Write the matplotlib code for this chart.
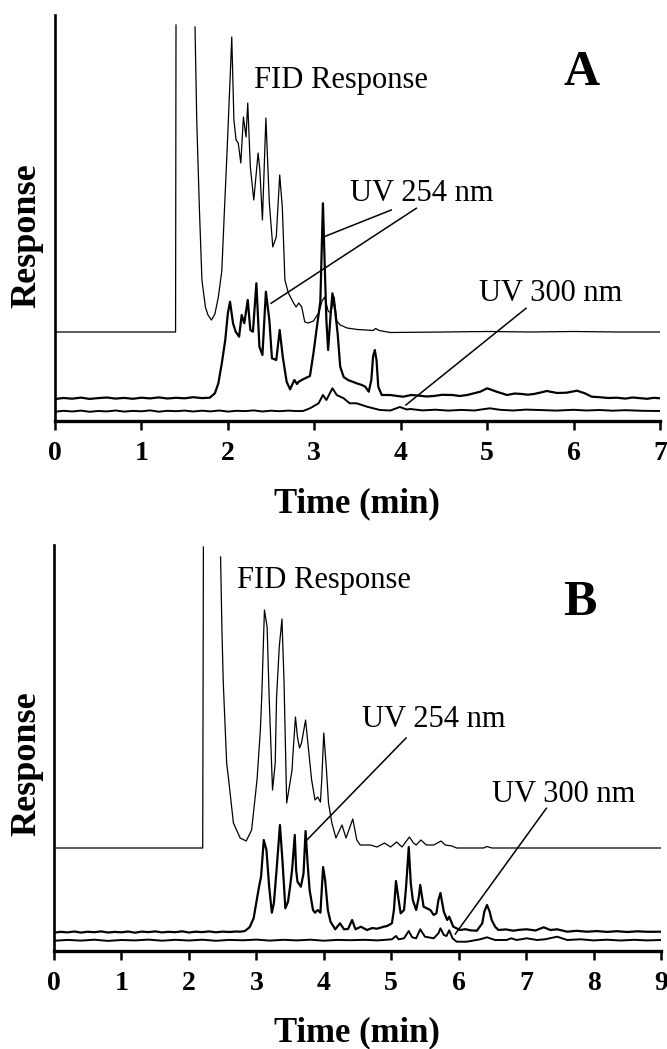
import numpy as np
import matplotlib
matplotlib.use("Agg")
import matplotlib.pyplot as plt

nan = np.nan

# ---------------- Panel A data (time in min, response in arbitrary units) ----------------
fid_a_t = [0.00, 0.50, 1.00, 1.395, 1.40, nan, 1.62, 1.64, 1.67, 1.70, 1.74, 1.77, 1.81, 1.85, 1.89,
           1.93, 1.96, 1.99, 2.03, 2.045, 2.07, 2.095, 2.12, 2.15, 2.18, 2.21, 2.23, 2.26, 2.30, 2.35,
           2.37, 2.40, 2.44, 2.48, 2.52, 2.56, 2.60, 2.63, 2.66, 2.70, 2.76, 2.79, 2.82, 2.855, 2.89,
           2.93, 2.99, 3.05, 3.09, 3.12, 3.16, 3.19, 3.23, 3.26, 3.30, 3.38, 3.50, 3.60, 3.68, 3.71,
           3.75, 3.88, 4.50, 5.00, 5.50, 6.00, 6.50, 7.00]
fid_a_y = [89, 89, 89, 89, 396, nan, 394, 301, 214, 141, 114, 106, 101, 107, 124,
           150, 210, 268, 351, 384, 301, 281, 278, 258, 304, 284, 318, 254, 221, 268,
           251, 201, 303, 218, 174, 184, 246, 214, 141, 128, 118, 114, 118, 114, 99,
           98, 100, 108, 120, 124, 110, 108, 124, 100, 96, 93, 91.5, 91, 90.5, 92.5,
           90.5, 88.5, 89, 89.5, 89, 89.5, 89, 89]

uv254_a_t = [0.0, 0.1, 0.2, 0.3, 0.4, 0.5, 0.6, 0.7, 0.8, 0.9, 1.0, 1.1, 1.2, 1.3, 1.4, 1.5, 1.6, 1.7,
             1.79, 1.85, 1.89, 1.93, 1.97, 2.00, 2.025,
             2.06, 2.09, 2.13, 2.16, 2.19, 2.23, 2.26, 2.29, 2.33, 2.365, 2.40, 2.44, 2.48, 2.51,
             2.56, 2.60, 2.635, 2.68, 2.72, 2.77, 2.80, 2.82, 2.87, 2.95, 2.99, 3.03, 3.07, 3.10,
             3.12, 3.14, 3.16, 3.19, 3.21, 3.24, 3.27, 3.30, 3.34, 3.39, 3.49, 3.55, 3.59, 3.63,
             3.66, 3.68, 3.70, 3.72, 3.74, 3.78, 3.88, 3.96, 4.03, 4.12, 4.20, 4.30, 4.38, 4.48,
             4.60, 4.68, 4.77, 4.92, 5.00, 5.11, 5.23, 5.32, 5.40, 5.47, 5.54, 5.62, 5.69, 5.81,
             5.92, 6.04, 6.13, 6.21, 6.30, 6.40, 6.50, 6.60, 6.68, 6.75, 6.85, 6.93, 7.00]
uv254_a_y = [22.0, 23.0, 22.3, 23.4, 22.1, 22.9, 23.5, 22.4, 23.1, 22.2, 23.3, 22.6, 23.6, 22.5, 23.2,
             22.7, 23.8, 22.9,
             23.3, 27.7, 37.7, 57.7, 81, 107.7, 119.3,
             97.7, 89.3, 84.3, 106, 97.7, 121, 91, 89.3, 137.7, 74.3, 66, 129.3, 101, 62.7,
             61, 91, 64.3, 39.3, 31.7, 41, 37, 39.3, 41.7, 45, 67.7, 94, 119.3, 217.7,
             158, 101, 71, 107.7, 127.7, 111, 87.7, 54.3, 44, 41, 37.7, 36, 34.3, 29.3,
             41, 64.3, 71, 61, 34.3, 26, 26, 25, 24.3, 26, 25.5, 24.5, 25, 26.2,
             26, 25, 26, 29.3, 32.7, 29.3, 26, 27.5, 27, 26.3, 27, 28.5, 30, 28,
             28.3, 30.3, 27.7, 24.3, 23.8, 23, 23.3, 22.4, 23.5, 23, 22.2, 23.2, 22.7]

uv300_a_t = [0.0, 0.1, 0.2, 0.3, 0.4, 0.5, 0.6, 0.7, 0.8, 0.9, 1.0, 1.1, 1.2, 1.3, 1.4, 1.5, 1.6,
             1.7, 1.8, 1.9, 2.0, 2.1, 2.2, 2.3, 2.4, 2.5, 2.6, 2.7, 2.8, 2.87, 2.95, 3.05, 3.10,
             3.14, 3.21, 3.26, 3.34, 3.41, 3.49, 3.61, 3.76, 3.88, 3.99, 4.07, 4.11, 4.25, 4.40,
             4.55, 4.70, 4.85, 5.03, 5.15, 5.30, 5.45, 5.60, 5.80, 6.00, 6.15, 6.30, 6.45, 6.60,
             6.80, 7.00]
uv300_a_y = [9.3, 10.2, 9.5, 10.4, 9.2, 10.0, 9.6, 10.5, 9.4, 10.1, 9.7, 10.6, 9.3, 10.2, 9.8,
             10.4, 9.5, 10.3, 9.6, 10.5, 9.4, 10.2, 9.9, 10.6, 9.5, 10.3, 9.8, 10.4, 9.9, 10,
             12.7, 17.7, 26, 21, 32.7, 26, 22.7, 17.7, 17.7, 14.3, 11, 10.5, 14, 11.5, 12,
             10.6, 11.3, 10.4, 11.1, 10.5, 12.7, 11.2, 10.5, 11.4, 11, 10.4, 11.2, 10.5, 11,
             10.3, 10.8, 10.2, 10]

# ---------------- Panel B data ----------------
fid_b_t = [0.0, 1.0, 2.0, 2.205, 2.215, nan, 2.47, 2.49, 2.51, 2.56, 2.59, 2.66, 2.76, 2.85, 2.93,
           3.01, 3.06, 3.08, 3.12, 3.16, 3.19, 3.24, 3.28, 3.30, 3.34, 3.38, 3.41, 3.45, 3.53, 3.54,
           3.58, 3.61, 3.64, 3.67, 3.73, 3.77, 3.82, 3.87, 3.91, 3.95, 3.97, 4.00, 4.04, 4.07, 4.12,
           4.18, 4.27, 4.33, 4.43, 4.49, 4.54, 4.69, 4.79, 4.90, 4.99, 5.08, 5.16, 5.27, 5.33, 5.37,
           5.44, 5.52, 5.63, 5.74, 5.80, 5.90, 5.97, 6.37, 6.42, 6.49, 7.0, 8.0, 9.0]
fid_b_y = [103, 103, 103, 103, 404, nan, 394, 321, 268, 188, 171, 128, 113, 110, 121,
           171, 221, 254, 341, 324, 254, 161, 188, 254, 304, 332, 271, 148, 181, 194,
           234, 214, 203, 208, 231, 204, 171, 151, 154, 149, 171, 218, 181, 148, 128,
           113, 126, 113, 132, 111, 106, 106, 104, 108, 104, 109, 104, 114, 108, 106,
           111, 106, 106, 110, 106, 105, 103, 103, 104.5, 103, 103, 103, 103]

uv254_b_t = [0.0, 0.1, 0.2, 0.3, 0.4, 0.5, 0.6, 0.7, 0.8, 0.9, 1.0, 1.1, 1.2, 1.3, 1.4, 1.5, 1.6,
             1.7, 1.8, 1.9, 2.0, 2.1, 2.2, 2.3, 2.4, 2.5, 2.6, 2.7, 2.76, 2.83, 2.90, 2.96,
             3.01, 3.04, 3.07, 3.11, 3.15, 3.19, 3.23, 3.26, 3.30, 3.35, 3.39, 3.43, 3.47, 3.50,
             3.53, 3.57, 3.59, 3.61, 3.66, 3.70, 3.73, 3.76, 3.79, 3.84, 3.87, 3.91, 3.95, 3.99,
             4.02, 4.06, 4.10, 4.17, 4.24, 4.30, 4.36, 4.42, 4.47, 4.55, 4.64, 4.72, 4.79, 4.89, 4.94,
             5.01, 5.04, 5.07, 5.11, 5.14, 5.19, 5.22, 5.26, 5.29, 5.32, 5.37, 5.41, 5.43, 5.48,
             5.53, 5.58, 5.63, 5.67, 5.70, 5.73, 5.78, 5.83, 5.86, 5.92, 6.02, 6.10, 6.18, 6.27,
             6.35, 6.38, 6.42, 6.46, 6.49, 6.54, 6.59, 6.70, 6.81, 6.90, 7.01, 7.14, 7.26, 7.36,
             7.46, 7.61, 7.75, 7.90, 8.05, 8.2, 8.35, 8.5, 8.65, 8.8, 9.0]
uv254_b_y = [18.3, 19.2, 18.6, 19.5, 18.4, 19.3, 18.8, 19.6, 18.5, 19.1, 18.7, 19.5, 18.3, 19.4,
             18.9, 19.6, 18.6, 19.2, 18.8, 19.7, 18.5, 19.3, 18.9, 19.6, 18.7, 19.4, 19.0, 19.5,
             19.3, 20, 23.7, 32.7,
             52.7, 64.3, 74.3, 111, 101, 64.3, 38.3, 47.7, 81, 126, 87.7, 42.7, 49.3, 64.3,
             81, 116, 81, 69.3, 64.3, 77.7, 120, 87.7, 61, 41, 38.3, 41, 38.3, 84,
             71, 41, 29.3, 21.7, 27.7, 21.7, 22, 31, 21.7, 24.3, 21, 23, 22.3, 24.3, 25,
             27.7, 41, 70, 51, 37.7, 41, 64, 104, 67.7, 51, 41, 54.3, 66, 44.3,
             42.7, 41, 36, 37.7, 51, 58, 39.3, 31, 34.3, 24.3, 21, 21.8, 20.6, 20.3,
             27.7, 39.3, 46, 39.3, 31, 24.3, 21, 21.6, 20.3, 21.2, 21.7, 20.5, 23.7, 21,
             21.7, 19.3, 20.2, 19.3, 19.9, 19.1, 19.8, 19, 19.7, 19.2, 19.3]

uv300_b_t = [0.0, 0.2, 0.4, 0.6, 0.8, 1.0, 1.2, 1.4, 1.6, 1.8, 2.0, 2.2, 2.4, 2.6, 2.8, 3.0, 3.2,
             3.4, 3.6, 3.8, 4.0, 4.2, 4.4, 4.6, 4.8, 5.01, 5.07, 5.11,
             5.19, 5.26, 5.31, 5.37, 5.43, 5.50, 5.63, 5.70, 5.73, 5.78, 5.82, 5.86, 5.91, 5.97,
             6.12, 6.32, 6.42, 6.54, 6.71, 6.78, 6.86, 7.01, 7.16, 7.28, 7.46, 7.61, 7.81, 8.0,
             8.2, 8.4, 8.6, 8.8, 9.0]
uv300_b_y = [10.2, 11.1, 10.4, 11.3, 10.1, 11.0, 10.6, 11.4, 10.3, 11.2, 10.5, 11.3, 10.2, 11.1,
             10.7, 11.4, 10.4, 11.2, 10.6, 11.3, 10.3, 11.1, 10.8, 11.2, 10.6, 11.7, 15, 11.7,
             12.7, 20, 13.7, 12.7, 21.7, 14.3, 12.7, 17.7, 22.7, 16, 15, 20.7, 12.7, 9.3,
             9.3, 11.7, 13.7, 11, 11, 12.7, 11, 12.7, 11, 11.7, 14.3, 11, 11.7, 10.6,
             11.3, 10.5, 11.2, 10.6, 11]

# ---------------- Labels ----------------
panel_letters = ["A", "B"]
trace_label = "FID Response"
uv254_label = "UV 254 nm"
uv300_label = "UV 300 nm"
xlabel = "Time (min)"
ylabel = "Response"

# annotation text anchors (data coords) and leader lines (data coords)
ann_a = {"fid": (2.30, 333), "letter": (5.88, 336), "uv254": (3.41, 220), "uv300": (4.91, 120)}
ann_b = {"fid": (2.72, 363), "letter": (7.55, 336), "uv254": (4.56, 224), "uv300": (6.49, 149)}
lines_a = [((3.89, 211), (3.12, 184.5)), ((4.18, 212.7), (2.50, 117.7)), ((5.45, 112.7), (4.06, 16))]
lines_b = [((5.22, 213), (3.75, 111)), ((7.30, 142.7), (5.95, 17))]

W, H = 667, 1049
fig = plt.figure(figsize=(W / 100, H / 100), dpi=100)
serif = ["Liberation Serif", "DejaVu Serif"]

def px_axes(left, top, right, bottom):
    return fig.add_axes([left / W, 1 - bottom / H, (right - left) / W, (bottom - top) / H])

axA = px_axes(55, 15, 660, 421)
axB = px_axes(54, 545, 661, 951)

panels = [
    (axA, fid_a_t, fid_a_y, uv254_a_t, uv254_a_y, uv300_a_t, uv300_a_y, ann_a, lines_a, 7),
    (axB, fid_b_t, fid_b_y, uv254_b_t, uv254_b_y, uv300_b_t, uv300_b_y, ann_b, lines_b, 9),
]

for i, (ax, ft, fy, ut, uy, vt, vy, ann, lines, xm) in enumerate(panels):
    ax.plot(ft, fy, color="black", lw=0.9, solid_joinstyle="round")
    ax.plot(ut, uy, color="black", lw=1.6, solid_joinstyle="round")
    ax.plot(vt, vy, color="black", lw=1.4, solid_joinstyle="round")
    for (p0, p1) in lines:
        ax.plot([p0[0], p1[0]], [p0[1], p1[1]], color="black", lw=1.1)
    ax.set_xlim(0, xm)
    ax.set_ylim(0, 406)
    for s in ["top", "right"]:
        ax.spines[s].set_visible(False)
    ax.spines["bottom"].set_linewidth(2.4)
    ax.spines["left"].set_linewidth(1.9)
    ax.set_yticks([])
    ax.set_xticks(range(0, xm + 1))
    ax.tick_params(axis="x", direction="out", length=6.5, width=1.8, pad=8)
    for lab in ax.get_xticklabels():
        lab.set_fontfamily(serif)
        lab.set_fontweight("bold")
        lab.set_fontsize(20)
    ax.text(*ann["fid"], trace_label, family=serif, fontsize=22, ha="left", va="baseline")
    ax.text(*ann["letter"], panel_letters[i], family=serif, fontsize=36, fontweight="bold",
            ha="left", va="baseline")
    ax.text(*ann["uv254"], uv254_label, family=serif, fontsize=22, ha="left", va="baseline")
    ax.text(*ann["uv300"], uv300_label, family=serif, fontsize=22, ha="left", va="baseline")

# axis titles (figure pixel positions)
for ycen in [236, 764]:
    fig.text(27 / W, 1 - ycen / H, ylabel, family=serif, fontsize=26, fontweight="bold",
             rotation=90, ha="center", va="center")
for ybase in [512, 1041]:
    fig.text(357 / W, 1 - ybase / H, xlabel, family=serif, fontsize=25, fontweight="bold",
             ha="center", va="baseline")

fig.savefig("out.png", dpi=100)
